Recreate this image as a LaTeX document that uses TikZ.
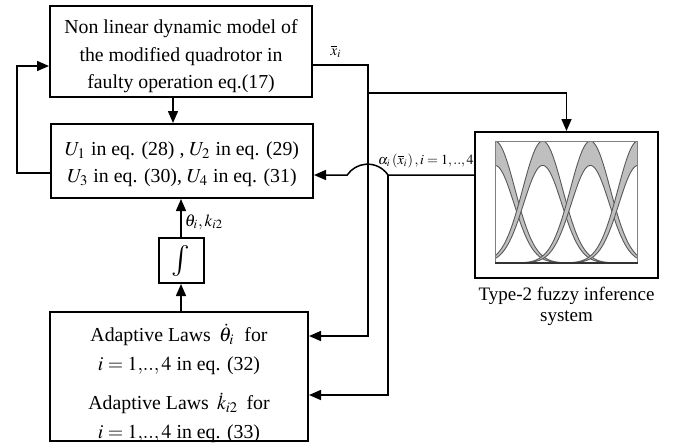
\documentclass[tikz,border=0pt]{standalone}
\usepackage{mathptmx}
\usepackage{fontspec}
\setmainfont{Liberation Serif}
\usepackage{tikz}
\usetikzlibrary{arrows.meta,positioning}
\tikzset{
  blockbox/.style={
    draw,
    line width=1pt,
    inner sep=0pt
  },
  boxtext/.style={
    align=center,
    inner sep=0pt,
    text depth=0pt,
    font=\fontsize{9.9}{13.75}\selectfont
  },
  sigflow/.style={-{Triangle[length=6pt,width=5pt]}, line width=0.75pt},
  mfband/.style={fill=black!25, draw=black!65, line width=0.45pt}
}
\begin{document}
\begin{tikzpicture}[x=0.5pt, y=-0.5pt]
  \useasboundingbox (0,0) rectangle (674,446);
  \node[blockbox, minimum width=131pt, minimum height=45.5pt,
    label={[boxtext, yshift=-1.5pt]center:{Non linear dynamic model of\\the modified quadrotor in\\faulty operation eq.(17)}}] (model) at (181,51.5) {};
  \node[blockbox, minimum width=131pt, minimum height=37pt,
    label={[boxtext, yshift=-0.5pt]center:{$U_1$ in eq. (28) , $U_2$ in eq. (29)\\$U_3$ in eq. (30), $U_4$ in eq. (31)}}] (ctrl) at (182,161) {};
  \node[blockbox, minimum width=22.5pt, minimum height=22.5pt, font=\fontsize{15.5}{16}\selectfont] (integ) at (181,260.5) {$\int$};
  \node[blockbox, minimum width=129pt, minimum height=64.5pt,
    label={[boxtext, yshift=-2.5pt, font=\fontsize{9.9}{14.3}\selectfont]center:{Adaptive Laws~\,$\dot{\theta}_i$~~for\\$i=1{,}..{,}\,4$ in eq. (32)\\[5.5pt]
     Adaptive Laws~\,$\dot{k}_{i2}$~\,for\\$i=1{,}..{,}\,4$ in eq. (33)}}] (adapt) at (179,376.5) {};
  \node[blockbox, minimum width=91.5pt, minimum height=73pt] (fuzzy) at (566.5,205) {};
  \node[below=0.5pt of fuzzy, align=center, font=\fontsize{9.5}{10.5}\selectfont] (fuzzylbl)
    {Type-2 fuzzy inference\\system};

  % interval type-2 membership functions
  \begin{scope}[shift={(495,263)}, x=23.83pt, y=61pt]
    \begin{scope}
      \clip (0,0) rectangle (3,1);
      \foreach \c in {0,1,2,3} {
        \filldraw[mfband] plot[domain=0:3, samples=90] (\x,{exp(-(\x-\c)^2/0.35)})
          -- plot[domain=3:0, samples=90] (\x,{0.8*exp(-(\x-\c)^2/0.32)}) -- cycle;
      }
    \end{scope}
    \draw[black!50, line width=0.5pt] (0,0) rectangle (3,1);
    \draw[black!80, line width=0.6pt] (0,0) -- (3,0);
  \end{scope}

  \coordinate (xsplit) at (368,65);
  \coordinate (fsplit) at (368,93);
  \coordinate (asplit) at (388,175);

  \draw[sigflow] ([xshift=-4pt]model.south) -- ([xshift=-4pt]model.south |- ctrl.north);
  \draw[sigflow] ([yshift=-6pt]ctrl.west) -- ++(-16.5pt,0) |- ([yshift=-7.25pt]model.west);
  \draw[sigflow] ([yshift=-6.75pt]model.east) -- node[above, pos=0.42, font=\fontsize{7.5}{9}\selectfont] {$\overline{x}_i$} (xsplit)
    |- ([yshift=20.25pt]adapt.east);
  \draw[sigflow] (fsplit) -| (fuzzy.north);
  \draw[sigflow] ([yshift=15pt]fuzzy.west) -- node[above, pos=0.56, font=\fontsize{7}{8}\selectfont] {$\alpha_i\left(\overline{x}_i\right), i=1,..,4$} (asplit)
    arc[start angle=34, end angle=146, radius=12.3pt] -- (ctrl.east |- asplit);
  \draw[sigflow] (asplit) |- ([yshift=-9.25pt]adapt.east);
  \draw[sigflow] (adapt.north -| integ) -- (integ.south);
  \draw[sigflow] (integ) -- node[right, pos=0.4, inner sep=1.5pt, font=\fontsize{8.5}{10}\selectfont] {$\theta_i, k_{i2}$} (integ |- ctrl.south);
\end{tikzpicture}
\end{document}
